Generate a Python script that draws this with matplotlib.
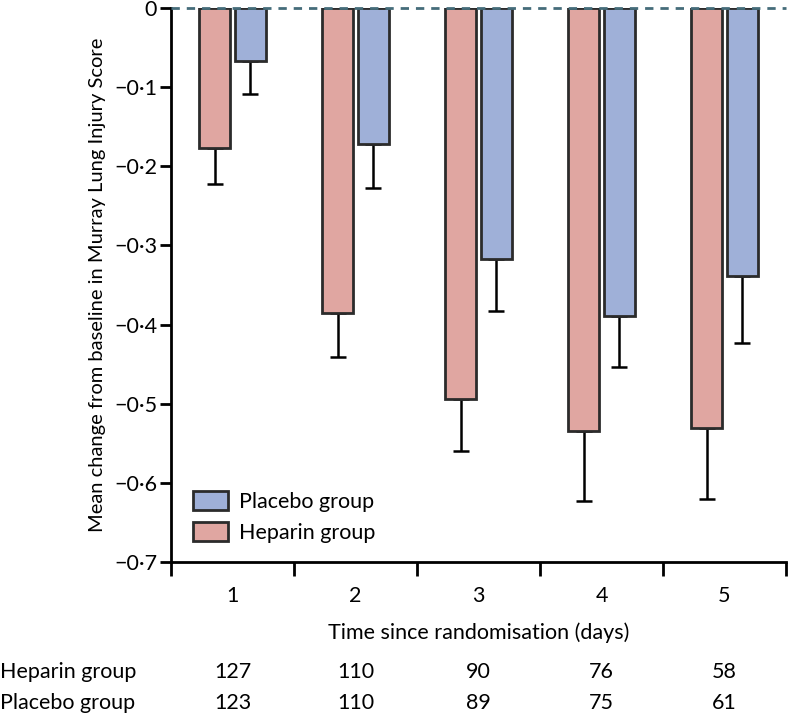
import matplotlib
matplotlib.use('Agg')
import matplotlib.pyplot as plt
import numpy as np

plt.rcParams['font.family'] = ['Lato', 'DejaVu Sans']

## data
# -------------------------------------------------------------
days = [1, 2, 3, 4, 5]
heparin_mean = [-0.177, -0.386, -0.494, -0.535, -0.531]
heparin_err  = [0.045, 0.055, 0.066, 0.088, 0.089]
placebo_mean = [-0.067, -0.172, -0.317, -0.389, -0.339]
placebo_err  = [0.042, 0.056, 0.066, 0.064, 0.084]
heparin_n = [127, 110, 90, 76, 58]
placebo_n = [123, 110, 89, 75, 61]
yticks = [0, -0.1, -0.2, -0.3, -0.4, -0.5, -0.6, -0.7]
ytick_labels = ['0', '\u22120\u00b71', '\u22120\u00b72', '\u22120\u00b73', '\u22120\u00b74',
                '\u22120\u00b75', '\u22120\u00b76', '\u22120\u00b77']
# -------------------------------------------------------------

hep_col = '#e0a6a1'
pla_col = '#9fb0d8'
edge = '#2b2b2b'
fs = 15.5

fig = plt.figure(figsize=(7.88, 7.17), dpi=100)
ax = fig.add_axes([171/788, 1-562/717, 615/788, 554/717])

x = np.array(days, dtype=float)
w = 0.25
off = 0.145
ax.bar(x - off, heparin_mean, w, color=hep_col, edgecolor=edge, linewidth=2,
       label='Heparin group', zorder=3)
ax.bar(x + off, placebo_mean, w, color=pla_col, edgecolor=edge, linewidth=2,
       label='Placebo group', zorder=3)
ax.errorbar(x - off, heparin_mean, yerr=[heparin_err, np.zeros(5)], fmt='none',
            ecolor='black', elinewidth=1.8, capsize=6, capthick=1.8, zorder=2)
ax.errorbar(x + off, placebo_mean, yerr=[placebo_err, np.zeros(5)], fmt='none',
            ecolor='black', elinewidth=1.8, capsize=6, capthick=1.8, zorder=2)

ax.axhline(0, color='#456c7a', linestyle=(0, (3, 2.5)), linewidth=2,
           clip_on=False, zorder=4)

ax.set_xlim(0.5, 5.5)
ax.set_ylim(-0.7, 0)
ax.spines['top'].set_visible(False)
ax.spines['right'].set_visible(False)
ax.spines['left'].set_linewidth(2)
ax.spines['bottom'].set_linewidth(2)

ax.set_yticks(yticks)
ax.set_yticklabels(ytick_labels, fontsize=fs)
ax.tick_params(axis='y', direction='out', length=8, width=2, pad=2)

ax.set_xticks(days)
ax.set_xticklabels([str(d) for d in days], fontsize=fs)
ax.set_xticks(np.arange(0.5, 6.0, 1.0), minor=True)
ax.tick_params(axis='x', which='major', length=0, pad=17)
ax.tick_params(axis='x', which='minor', direction='out', length=10, width=2)

ax.set_xlabel('Time since randomisation (days)', fontsize=fs, labelpad=12)
ax.set_ylabel('Mean change from baseline in Murray Lung Injury Score',
              fontsize=14.5, labelpad=6)

handles, labels = ax.get_legend_handles_labels()
ax.legend(handles[::-1], labels[::-1], loc='lower left',
          bbox_to_anchor=(0.005, 0.0), frameon=False, fontsize=fs,
          handlelength=1.6, handleheight=1.0, handletextpad=0.5,
          labelspacing=0.45)

# numbers at risk under the axis
row_y = [672, 703]
for yy, name, vals in zip(row_y, ['Heparin group', 'Placebo group'],
                          [heparin_n, placebo_n]):
    fig.text(0.0, 1 - yy/717, name, fontsize=fs, ha='left', va='center')
    for d, v in zip(days, vals):
        xf = ax.transData.transform((d, 0))[0]
        xf = fig.transFigure.inverted().transform((xf, 0))[0]
        fig.text(xf, 1 - yy/717, str(v), fontsize=fs, ha='center', va='center')

fig.savefig('out.png', dpi=100)
